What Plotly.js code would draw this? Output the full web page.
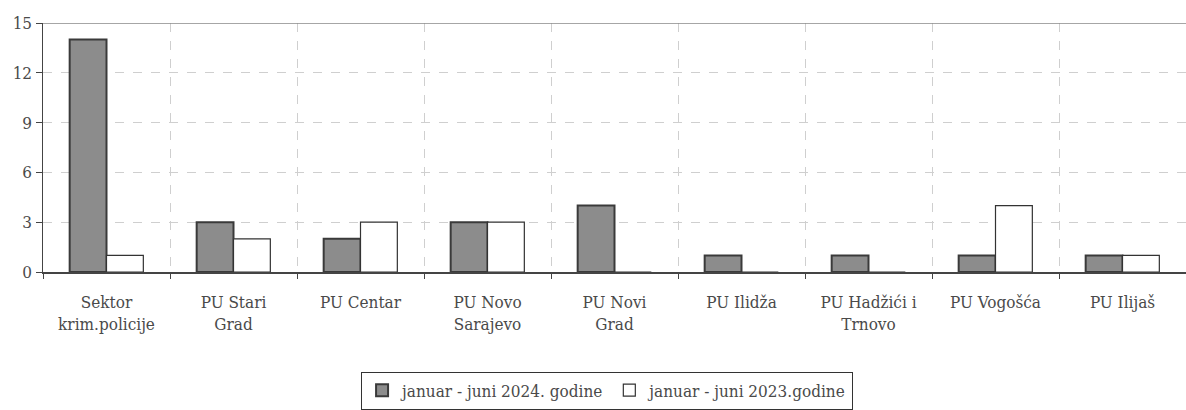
<!DOCTYPE html>
<html>
<head>
<meta charset="utf-8">
<script src="https://cdn.plot.ly/plotly-3.0.1.min.js"></script>
<style>html,body{margin:0;padding:0;background:#fff;}#chart{width:1186px;height:410px;}</style>
</head>
<body>
<div id="chart"></div>
<script>
const categories = ["Sektor<br>krim.policije", "PU Stari<br>Grad", "PU Centar", "PU Novo<br>Sarajevo", "PU Novi<br>Grad", "PU Ilidža", "PU Hadžići i<br>Trnovo", "PU Vogošća", "PU Ilijaš"];
const series2024 = [14, 3, 2, 3, 4, 1, 1, 1, 1];
const series2023 = [1, 2, 3, 3, 0, 0, 0, 4, 1];
const seriesNames = ["januar - juni 2024. godine", "januar - juni 2023.godine"];
const yTicks = [0, 3, 6, 9, 12, 15];

const fam = "DejaVu Serif Condensed, DejaVu Serif";
const font = {family: fam, size: 17, color: "#4a4a4a"};

const data = [
  {type: "bar", x: categories, y: series2024, name: seriesNames[0],
   marker: {color: "#8c8c8c", line: {color: "#3a3a3a", width: 2}}},
  {type: "bar", x: categories, y: series2023, name: seriesNames[1],
   marker: {color: "#ffffff", line: {color: "#333333", width: 1.2}}}
];

const layout = {
  width: 1186, height: 410,
  margin: {l: 43, r: 0, t: 23, b: 138},
  paper_bgcolor: "#fff", plot_bgcolor: "#fff",
  font: font,
  barmode: "group", bargap: 0.42, bargroupgap: 0,
  showlegend: true,
  legend: {orientation: "h", x: 0.4935, xanchor: "center", y: -0.40, yanchor: "top",
           bordercolor: "#333", borderwidth: 1, bgcolor: "#fff",
           font: {family: fam, size: 17, color: "#4a4a4a"}, traceorder: "normal",
           itemwidth: 16, tracegroupgap: 0},
  xaxis: {type: "category", tickson: "boundaries", showgrid: true,
          gridcolor: "#cfcfcf", griddash: "dash", gridwidth: 1,
          ticks: "outside", ticklen: 5, tickcolor: "#444",
          showline: true, linecolor: "#444", linewidth: 1.5,
          ticklabelstandoff: 14,
          tickfont: font, automargin: false},
  yaxis: {range: [0, 15], tickvals: yTicks, ticktext: yTicks.map(String),
          showgrid: true, gridcolor: "#cfcfcf", griddash: "dash", gridwidth: 1,
          ticks: "outside", ticklen: 6, tickcolor: "#444",
          showline: true, linecolor: "#444", linewidth: 1.5,
          zeroline: false, tickfont: font, automargin: false},
  shapes: [{type: "line", xref: "paper", yref: "y", x0: 0, x1: 1, y0: 15, y1: 15,
            line: {color: "#888", width: 1.5}}]
};

Plotly.newPlot("chart", data, layout, {staticPlot: true, displayModeBar: false});
</script>
</body>
</html>
